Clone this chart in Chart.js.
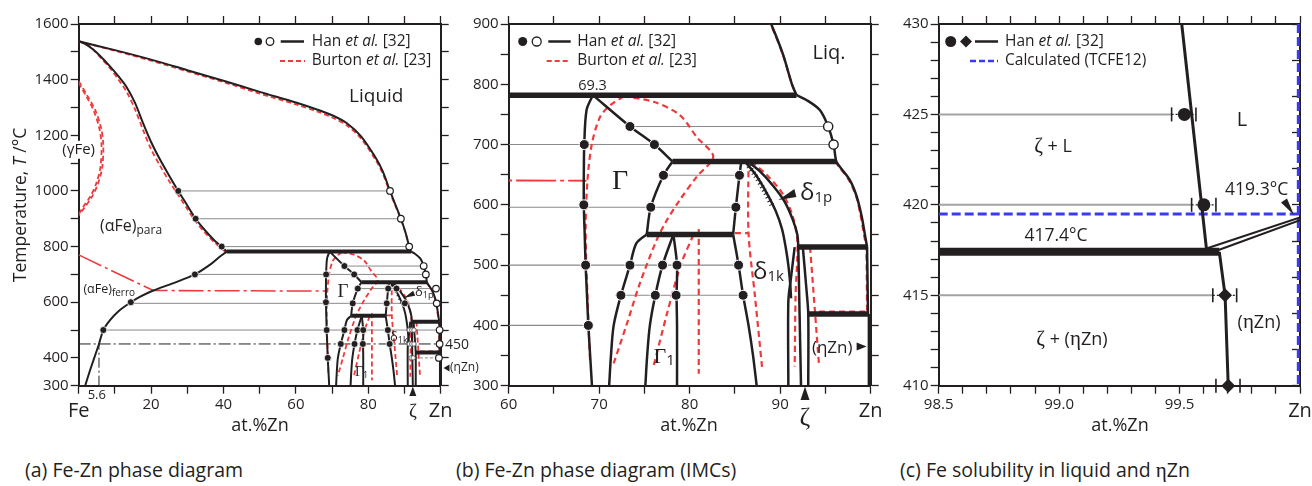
<!DOCTYPE html>
<html><head><meta charset="utf-8">
<title>Fe-Zn phase diagram</title>
<script src="https://cdn.jsdelivr.net/npm/chart.js@4.4.1/dist/chart.umd.min.js"></script>
<style>
html,body{margin:0;padding:0;background:#fff;}
body{position:relative;width:1312px;height:486px;overflow:hidden;}
canvas{position:absolute;top:0;}
.cap{position:absolute;top:457px;font-family:"Open Sans",sans-serif;font-size:19.5px;color:#231f20;white-space:nowrap;line-height:26px;}
.cap .g{font-family:"Liberation Serif",serif;font-size:21px;}
</style></head><body>
<canvas id="ca" width="490" height="440" style="left:0px"></canvas>
<canvas id="cb" width="440" height="440" style="left:450px"></canvas>
<canvas id="cc" width="432" height="440" style="left:880px"></canvas>
<div class="cap" style="left:25px">(a) Fe-Zn phase diagram</div>
<div class="cap" style="left:456px">(b) Fe-Zn phase diagram (IMCs)</div>
<div class="cap" style="left:900px">(c) Fe solubility in liquid and <span class="g">η</span>Zn</div>
<script>
// ===================== DATA (at.% Zn , °C) =====================
// Han et al. [32] phase boundaries
const hanLiquidus = [[0,1538],[10,1506],[20,1472],[30,1434],[40,1396],[50,1356],[60,1318],[66,1292],[70,1272],[74,1244],[78,1196],[82,1120],[84,1070],[86,1000],[87.5,950],[89,900],[90.3,850],[91.3,800],[91.8,782]];
const hanAlphaSolidus = [[0,1538],[2,1527],[4,1508],[6,1484],[8.7,1447],[11,1412],[13.3,1372],[15.5,1318],[17.9,1240],[20,1176],[22.5,1112],[25,1055],[27.5,1000],[30,948],[32.3,900],[35,857],[37.5,822],[39.5,800],[40.9,782]];
const hanAlphaSolvus = [[40.9,782],[38.6,760],[36.3,735],[32.1,700],[26,668],[20.6,642],[17,620],[14.4,600],[11,568],[8.6,535],[6.8,500],[5.6,450],[4.3,400],[3.0,350],[1.8,300]];
const hanGammaLeft = [[69.3,782],[68.6,757],[68.35,700],[68.3,650],[68.3,600],[68.4,550],[68.5,500],[68.65,450],[68.8,400],[69.0,350],[69.2,300]];
const hanGammaLiq = [[69.3,782],[73.4,730],[76.1,700],[78.1,672]];
const hanGammaMid = [[78.1,672],[77.1,649],[75.7,596],[75.25,551]];
const hanGammaLow = [[75.25,551],[74.1,536],[73.4,500],[72.4,450],[71.6,400],[71.3,350],[71.1,300]];
const hanGamma1Left = [[78.2,551],[77.0,500],[76.2,450],[75.6,400],[75.3,350],[75.1,300]];
const hanGamma1Right = [[78.2,551],[78.6,500],[78.55,450],[78.6,400],[78.6,300]];
const hanDeltaLeftUp = [[85.7,672],[85.5,649],[85.1,596],[84.8,551]];
const hanDeltaLeftLow = [[84.8,551],[85.4,500],[85.9,450],[86.5,400],[87.0,350],[87.4,300]];
const hanDelta1p1k = [[86.1,672],[87.3,650],[88.5,620],[89.5,590],[90.2,560],[90.6,530],[90.9,500],[91.1,470],[91.2,445]];
const hanDeltaHatch = [[86.5,664],[87.2,650],[88.3,622],[89.2,596]];
const hanDeltaRight = [[86.4,672],[87.8,655],[89.3,630],[90.5,605],[91.4,575],[91.9,550],[92.0,530]];
const hanDeltaZeta = [[91.6,530],[91.2,480],[90.9,440],[90.9,300]];
const hanZetaLeft = [[92.0,530],[92.1,450],[92.3,300]];
const hanZetaRight = [[92.5,530],[92.9,460],[93.1,419],[93.1,300]];
const hanLiqDelta = [[91.8,782],[92.9,774],[94.4,757],[95.3,730],[95.9,700],[96.2,672],[96.6,663],[97.7,641],[98.45,614],[99.0,581],[99.4,547],[99.6,530]];
const hanLiqZeta = [[99.6,530],[99.7,419]];
const hanEtaSolvus = [[99.8,419],[99.8,300]];
// invariant reactions: [T, x from, x to]
const hanInvariants = [[782,40.9,91.8],[672,78.1,96.2],[551,75.25,84.8],[530,92.0,99.6],[419,93.1,99.8]];
// experimental points, panel (a)
const dotsA = [[27.5,1000],[32.3,900],[39.5,800],[32.1,700],[14.4,600],[6.8,500],[68.35,700],[68.3,600],[73.4,730],[76.1,700],[77.1,649],[85.5,649],[87.8,649],[75.7,596],[85.1,596],[90.1,596],[68.5,500],[73.4,500],[77.0,500],[78.6,500],[85.4,500],[72.4,450],[76.2,450],[78.5,450],[85.9,450],[68.8,400]];
const circA = [[86,1000],[89,900],[91.3,800],[95.3,730],[95.9,700],[98.7,649],[98.9,596],[99.7,500],[99.7,450],[99.5,400]];
const smallCircA = [[91.3,500],[92.0,500],[92.6,500],[91.3,450],[92.0,450],[92.6,450],[91.8,400],[92.4,400]];
// tie-lines [T, x from, x to]
const tieA = [[1000,27.5,86],[900,32.3,89],[800,39.5,91.3],[730,73.4,95.3],[700,32.1,95.9],[649,76.8,98.7],[596,14.4,98.9],[500,6.8,99.7]];
const tieA400 = [[400,91.5,99.5]];
const dashDot450 = [[0,450],[100,450]];
const dashDot56 = [[5.6,300],[5.6,450]];
// panel (b)
const dotsB = [[68.35,700],[68.3,600],[68.5,500],[68.8,400],[73.4,730],[76.1,700],[77.1,649],[75.7,596],[73.4,500],[72.4,450],[77.0,500],[76.2,450],[78.6,500],[78.5,450],[85.5,649],[85.1,596],[85.4,500],[85.9,450]];
const circB = [[95.3,730],[95.9,700]];
const tieB = [[730,73.4,95.3],[700,60,95.9],[649,77.1,85.5],[596,60,85.1],[500,60,85.4],[450,71.8,85.9],[400,60,68.8]];
// Burton et al. [23]
const burGammaLoop = [[0,1394],[2.5,1340],[4.6,1290],[6.2,1225],[6.8,1165],[6.5,1085],[5.3,1025],[3.6,978],[1.6,940],[0,912]];
const burGammaLoop2 = [[0,1388],[2.1,1340],[4.1,1290],[5.7,1225],[6.3,1165],[6.0,1085],[4.8,1025],[3.1,978],[1.2,942],[0,916]];
const burLiquidus = [[0,1538],[10,1504],[20,1468],[30,1430],[40,1391],[50,1350],[60,1311],[66,1285],[70,1264],[74,1236],[78,1188],[82,1112],[84,1062],[86,994],[87.5,946],[89,898],[90.3,849],[91.3,800],[91.8,782]];
const burAlphaSolidus = [[0,1538],[3,1520],[6,1480],[8.7,1440],[11,1400],[13.3,1355],[15.5,1295],[17.9,1215],[20,1150],[22.5,1090],[25,1035],[27.5,985],[30,935],[32.3,890],[35,848],[37.5,815],[39.5,792],[40.5,782]];
const burCurie = [[0,770],[20.6,642],[68.6,640]];
const burGammaLeft = [[72.7,780],[71.2,765],[70.1,746],[69.2,702],[68.7,640],[68.5,560],[68.7,450],[69.0,337]];
const burGammaRight = [[72.7,780],[76.0,771],[78.9,749],[80.8,712],[82.6,680],[80.8,647],[78.9,608],[77.3,570],[76.3,540],[74.5,470],[73,400],[71.6,337]];
const burGamma1Left = [[80.4,550],[79.0,500],[77.5,420],[76.0,332]];
const burGamma1Right = [[81.0,560],[81.0,320]];
const burDeltaTop = [[85.0,553],[86.5,553]];
const burDeltaLeft = [[86.5,672],[86.5,553],[87.2,450],[88.0,330]];
const burDeltaRight = [[86.8,672],[88.5,650],[90.2,620],[91.3,585],[91.9,540],[91.7,450],[91.6,332]];
const burZeta = [[93.3,530],[94.3,332]];
const burLiquid = [[96.1,672],[96.5,663],[97.6,641],[98.4,614],[98.9,581],[99.3,547],[99.5,530],[99.6,423]];
const burEutectic = [[94.3,423],[99.6,423]];
// panel (c): Fe solubility
const cTemps = [425,420,415,410];
const cX = [99.520,99.601,99.689,99.702];
const cErrLo = [99.467,99.550,99.638,99.651];
const cErrHi = [99.568,99.651,99.737,99.751];
const cLiquidus = [[99.509,430],[99.613,417.4]];
const cEtaSolvus = [[99.665,417.4],[99.689,415],[99.702,410]];
const cEutectic = [[98.5,417.4],[99.665,417.4]];
const cEtaLiq1 = [[99.615,417.6],[100,419.3]];
const cEtaLiq2 = [[99.662,417.5],[100,419.15]];
const cCalcT = [[98.5,419.5],[100,419.5]];
const cCalcX = [[99.993,430],[99.993,410]];
// tick labels
const ticksA = {x:[20,40,60,80], y:[300,400,600,800,1000,1200,1400,1600]};
const ticksB = {x:[60,70,80,90], y:[300,400,500,600,700,800,900]};
const ticksC = {x:['98.5','99.0','99.5'], y:[410,415,420,425,430]};

// ===================== STYLE / HELPERS =====================
const INK='#231f20', RED='#ef3a3d', GRAY='#8a8a8a', BLUE='#3a3af5';
const F=(s,st)=>(st?st+' ':'')+s+'px "Open Sans", sans-serif';
const FS=(s,st)=>(st?st+' ':'')+s+'px "Liberation Serif", serif';
const P=a=>a.map(p=>({x:p[0],y:p[1]}));
function lineDS(a,col,w,dash,ord,ten){return {data:P(a),showLine:true,borderColor:col,borderWidth:w,borderDash:dash||[],pointRadius:0,pointHoverRadius:0,pointHitRadius:0,tension:ten||0,order:ord,clip:0,fill:false,xAxisID:'x',yAxisID:'y'};}
function markDS(a,style,r,bg,bc,bw,ord,rot){return {data:P(a),showLine:false,pointStyle:style,pointRadius:r,pointHoverRadius:r,pointRotation:rot||0,backgroundColor:bg,borderColor:bc,pointBackgroundColor:bg,pointBorderColor:bc,pointBorderWidth:bw,order:ord,clip:false,xAxisID:'x',yAxisID:'y'};}
function tieDS(list,col,w,dash,ord){return list.map(t=>lineDS([[t[1],t[0]],[t[2],t[0]]],col,w,dash,ord));}
function txt(c,parts,x,y,align,bg){
  c.textBaseline='middle';c.textAlign='left';
  let w=0;for(const p of parts){c.font=p[1];w+=c.measureText(p[0]).width;}
  let x0=align==='center'?x-w/2:align==='right'?x-w:x;
  if(bg){c.save();c.fillStyle=bg;c.fillRect(x0-1,y-9,w+2,18);c.restore();}
  for(const p of parts){c.font=p[1];c.fillText(p[0],x0,y+(p[2]||0));x0+=c.measureText(p[0]).width;}
}
function poly(c,pts){c.beginPath();c.moveTo(pts[0][0],pts[0][1]);for(let i=1;i<pts.length;i++)c.lineTo(pts[i][0],pts[i][1]);c.closePath();c.fill();}
function seg(c,x1,y1,x2,y2,col,w,dash){c.save();c.strokeStyle=col;c.lineWidth=w;c.setLineDash(dash||[]);c.beginPath();c.moveTo(x1,y1);c.lineTo(x2,y2);c.stroke();c.restore();}
function dot(c,x,y,r,open){c.save();c.beginPath();c.arc(x,y,r,0,Math.PI*2);if(open){c.fillStyle='#fff';c.fill();c.lineWidth=1.3;c.strokeStyle=INK;c.stroke();}else{c.fillStyle=INK;c.fill();}c.restore();}

function phaseDatasets(s){
  const D=[];
  const add=(a,col,w,dash,ord,ten)=>D.push(lineDS(a,col,w,dash,ord,ten));
  [burGammaLoop,burGammaLoop2,burLiquidus,burAlphaSolidus,burGammaLeft,burGammaRight,burGamma1Left,burGamma1Right,burDeltaTop,burDeltaLeft,burDeltaRight,burZeta,burLiquid,burEutectic].forEach(a=>add(a,RED,s.red,s.redDash,3,0.3));
  add(burCurie,RED,s.red*0.85,s.curieDash,3,0);
  [hanLiquidus,hanAlphaSolidus,hanAlphaSolvus,hanGammaLeft,hanGammaLiq,hanGammaMid,hanGammaLow,hanGamma1Left,hanGamma1Right,hanDeltaLeftUp,hanDeltaLeftLow,hanDelta1p1k,hanDeltaRight,hanDeltaZeta,hanZetaLeft,hanZetaRight,hanLiqDelta,hanLiqZeta,hanEtaSolvus].forEach(a=>add(a,INK,s.thin,[],2,0.3));
  add(hanDeltaHatch,INK,s.hatch,[1,3],2,0.3);
  hanInvariants.forEach(r=>add([[r[1],r[0]],[r[2],r[0]]],INK,s.thick,[],1,0));
  return D;
}
function axes(o){
  const tf={family:'"Open Sans", sans-serif',size:15};
  const g={drawOnChartArea:false,drawTicks:true,tickLength:8,tickWidth:1.3,tickColor:INK};
  const b={display:true,color:INK,width:2};
  const base=(pos,min,max,step,cb,fit,tl)=>({type:'linear',position:pos,min,max,
    grid:Object.assign({},g,{tickLength:tl||8}),border:b,
    ticks:{stepSize:step,autoSkip:false,maxRotation:0,minRotation:0,color:INK,font:tf,padding:2,includeBounds:true,callback:cb},afterFit:fit});
  return {
    x:base('bottom',o.xmin,o.xmax,o.xstep,o.xcb,s=>{s.height=40;}),
    xt:base('top',o.xmin,o.xmax,o.xstep,()=>'',s=>{s.height=10;}),
    y:base('left',o.ymin,o.ymax,o.ystep,o.ycb,s=>{s.width=o.yW;}),
    yr:base('right',o.ymin,o.ymax,o.yrstep||o.ystep,()=>'',s=>{s.width=o.yrW;},o.yrTL)
  };
}
const common={responsive:false,animation:false,events:[],plugins:{legend:{display:false},tooltip:{enabled:false}}};

// ===================== PANEL (a) =====================
const styleA={thin:2,thick:4,hatch:3,red:1.8,redDash:[5,3],curieDash:[25,4,3,4]};
const dsA=[
  markDS(dotsA,'circle',3.5,INK,'#fff',0.8,0),
  markDS(circA,'circle',3.3,'#fff',INK,1.2,0),
  markDS(smallCircA,'circle',2.2,'#fff','#555',0.9,0),
  ...phaseDatasets(styleA),
  ...tieDS(tieA,GRAY,1,[],4),
  ...tieDS(tieA400,GRAY,1,[3,2],4),
  lineDS(dashDot450,INK,1,[12,3,2,3],4),
  lineDS(dashDot56,INK,1,[10,3,2,3],4)
];
function decoA(ch){
  const c=ch.ctx,X=v=>ch.scales.x.getPixelForValue(v),Y=v=>ch.scales.y.getPixelForValue(v);
  c.save();c.fillStyle=INK;
  txt(c,[['Liquid',F(19)]],X(82.2),Y(1338),'center');
  txt(c,[['(γFe)',F(15)]],X(0),Y(1148),'center','#fff');
  c.fillStyle=INK;
  txt(c,[['(αFe)',F(16)],['para',F(12),4]],X(5.9),Y(871),'left');
  txt(c,[['(αFe)',F(12.5)],['ferro',F(10),3]],X(1.3),Y(645),'left');
  txt(c,[['Γ',FS(19)]],X(73),Y(638),'center');
  txt(c,[['δ',F(13)],['1p',F(9),3]],X(92.9),Y(635),'left');
  {const tx=X(89.9),ty=Y(616);poly(c,[[tx,ty],[tx+9,ty-7],[tx+11,ty-2]]);}
  txt(c,[['δ',F(13)],['1k',F(9),3]],X(86.0),Y(473),'left');
  txt(c,[['Γ',FS(14)],['1',F(9),3]],X(76.3),Y(347),'left');
  txt(c,[['450',F(14)]],445,345,'left');
  txt(c,[['(ηZn)',F(12)]],450,368,'left');
  poly(c,[[443.5,368],[449.5,364.5],[449.5,371.5]]);
  {const zx=X(92.3);poly(c,[[zx,386.5],[zx-3.5,396],[zx+3.5,396]]);txt(c,[['ζ',FS(19)]],zx,412,'center');}
  txt(c,[['5.6',F(13)]],X(5.0),395,'center');
  txt(c,[['Fe',F(20)]],X(0),411.7,'center');
  txt(c,[['Zn',F(20)]],X(100),411.7,'center');
  txt(c,[['at.%Zn',F(18)]],260,426,'center');
  c.save();c.translate(21,205);c.rotate(-Math.PI/2);txt(c,[['Temperature, ',F(17.5)],['T',F(17.5,'italic')],[' /°C',F(17.5)]],0,0,'center');c.restore();
  dot(c,258.3,41.5,3.8,false);dot(c,270,41.5,3.8,true);seg(c,280.7,41.5,304,41.5,INK,2.5);
  c.fillStyle=INK;txt(c,[['Han ',F(15.5)],['et al.',F(15.5,'italic')],[' [32]',F(15.5)]],311.7,41.5,'left');
  seg(c,280,61,305,61,RED,2.2,[5,3]);
  c.fillStyle=INK;txt(c,[['Burton ',F(15.5)],['et al.',F(15.5,'italic')],[' [23]',F(15.5)]],311.7,61,'left');
  c.restore();
}
new Chart(document.getElementById('ca'),{type:'scatter',data:{datasets:dsA},
  options:Object.assign({},common,{layout:{padding:{left:18.7,right:39.3,top:14,bottom:14.3}},
    scales:axes({xmin:0,xmax:100,xstep:10,xcb:v=>ticksA.x.includes(v)?String(v):'',ymin:300,ymax:1600,ystep:100,ycb:v=>ticksA.y.includes(v)?String(v):'',yW:60,yrW:10})}),
  plugins:[{id:'decoA',afterDraw:decoA}]});

// ===================== PANEL (b) =====================
const styleB={thin:2.5,thick:5.5,hatch:5,red:2.2,redDash:[6,4],curieDash:[40,4,4,4]};
const dsB=[
  markDS(dotsB,'circle',5,INK,'#fff',1,0),
  markDS(circB,'circle',4.6,'#fff',INK,1.4,0),
  ...phaseDatasets(styleB),
  ...tieDS(tieB,GRAY,1.1,[],4)
];
function decoB(ch){
  const c=ch.ctx,X=v=>ch.scales.x.getPixelForValue(v),Y=v=>ch.scales.y.getPixelForValue(v),L=450;
  c.save();c.fillStyle=INK;
  txt(c,[['69.3',F(14.5)]],X(69.26),Y(797),'center');
  txt(c,[['Liq.',F(20)]],X(95.4),Y(852),'center');
  txt(c,[['Γ',FS(28)]],X(72.3),Y(638),'center');
  txt(c,[['δ',F(24)],['1p',F(15),5]],X(92.2),Y(620),'left');
  {const tx=X(89.8),ty=Y(608);poly(c,[[tx,ty],[tx+16,ty-11],[tx+18,ty-3]]);}
  txt(c,[['δ',F(24)],['1k',F(15),5]],X(87.0),Y(489),'left');
  txt(c,[['Γ',FS(22)],['1',F(15),4]],X(76.0),Y(348),'left');
  txt(c,[['(ηZn)',F(17)]],X(93.5),Y(363),'left');
  {const tx=X(99.55),ty=Y(365);poly(c,[[tx,ty],[tx-10,ty-4],[tx-10,ty+4]]);}
  {const zx=X(92.74);poly(c,[[zx,386.5],[zx-4.5,400],[zx+4.5,400]]);txt(c,[['ζ',FS(26)]],zx,418,'center');}
  txt(c,[['Zn',F(20)]],X(100),411.7,'center');
  txt(c,[['at.%Zn',F(18)]],689-L,426,'center');
  dot(c,522.7-L,41.5,4.5,false);dot(c,536.7-L,41.5,4.5,true);seg(c,548.3-L,41.5,570.7-L,41.5,INK,2.5);
  c.fillStyle=INK;txt(c,[['Han ',F(15.5)],['et al.',F(15.5,'italic')],[' [32]',F(15.5)]],577.3-L,41.5,'left');
  seg(c,546.7-L,61,570.7-L,61,RED,2.2,[5,3]);
  c.fillStyle=INK;txt(c,[['Burton ',F(15.5)],['et al.',F(15.5,'italic')],[' [23]',F(15.5)]],577.3-L,61,'left');
  c.restore();
}
new Chart(document.getElementById('cb'),{type:'scatter',data:{datasets:dsB},
  options:Object.assign({},common,{layout:{padding:{left:13.7,right:9.3,top:14,bottom:14.3}},
    scales:axes({xmin:60,xmax:100,xstep:5,xcb:v=>ticksB.x.includes(v)?String(v):'',ymin:300,ymax:900,ystep:50,ycb:v=>ticksB.y.includes(v)?String(v):'',yW:45,yrW:10})}),
  plugins:[{id:'decoB',afterDraw:decoB}]});

// ===================== PANEL (c) =====================
const pts=(xs)=>xs.map((x,i)=>[x,cTemps[i]]);
const dsC=[
  markDS(pts(cX).slice(0,2),'circle',6.5,INK,INK,0,0),
  markDS(pts(cX).slice(2),'rectRot',7,INK,INK,0,0),
  markDS(pts(cErrLo),'line',7,INK,INK,1.6,0,90),
  markDS(pts(cErrHi),'line',7,INK,INK,1.6,0,90),
  ...cTemps.map((t,i)=>lineDS([[cErrLo[i],t],[cErrHi[i],t]],INK,1.2,[2,2],0)),
  lineDS(cEutectic,INK,8,[],1),
  lineDS(cLiquidus,INK,3,[],1),
  lineDS(cEtaSolvus,INK,3,[],1),
  lineDS(cEtaLiq1,INK,2,[],1),
  lineDS(cEtaLiq2,INK,2,[],1),
  lineDS(cCalcT,BLUE,3,[9,4],2),
  lineDS(cCalcX,BLUE,3,[9,4],2),
  ...cTemps.slice(0,3).map((t,i)=>lineDS([[98.5,t],[cErrLo[i],t]],'#a3a3a3',2,[],3))
];
function decoC(ch){
  const c=ch.ctx,X=v=>ch.scales.x.getPixelForValue(v),Y=v=>ch.scales.y.getPixelForValue(v),L=880;
  c.save();c.fillStyle=INK;
  txt(c,[['L',F(20)]],X(99.759),Y(424.69),'center');
  txt(c,[['ζ',FS(21)],[' + L',F(18)]],X(98.975),Y(423.2),'center');
  txt(c,[['417.4°C',F(17.5)]],X(98.987),Y(418.28),'center');
  txt(c,[['419.3°C',F(17.5)]],X(99.82),Y(420.82),'center');
  poly(c,[[1294-L,215],[1281-L,202.5],[1287-L,198.5]]);
  txt(c,[['ζ',FS(21)],[' + (',F(18)],['η',FS(21)],['Zn)',F(18)]],X(99.053),Y(412.53),'center');
  txt(c,[['(',F(18)],['η',FS(21)],['Zn)',F(18)]],X(99.83),Y(413.47),'center');
  txt(c,[['Zn',F(20)]],X(100),411.7,'center');
  txt(c,[['at.%Zn',F(18)]],1120-L,426,'center');
  dot(c,950.7-L,41.5,5.5,false);
  poly(c,[[966-L,35.5],[972-L,41.5],[966-L,47.5],[960-L,41.5]]);
  seg(c,975-L,41.5,998-L,41.5,INK,2.5);
  c.fillStyle=INK;txt(c,[['Han ',F(15.5)],['et al.',F(15.5,'italic')],[' [32]',F(15.5)]],1005-L,41.5,'left');
  seg(c,970-L,61,998-L,61,BLUE,2.5,[6,3]);
  c.fillStyle=INK;txt(c,[['Calculated (TCFE12)',F(15.5)]],1005-L,61,'left');
  c.restore();
}
new Chart(document.getElementById('cc'),{type:'scatter',data:{datasets:dsC},
  options:Object.assign({},common,{layout:{padding:{left:13.7,right:6,top:14,bottom:14.3}},
    scales:axes({xmin:98.5,xmax:100,xstep:0.1,xcb:v=>{const s=(Math.round(v*10)/10).toFixed(1);return ticksC.x.includes(s)?s:'';},
      ymin:410,ymax:430,ystep:1,yrstep:2,ycb:v=>ticksC.y.includes(Math.round(v))&&Math.abs(v-Math.round(v))<1e-6?String(Math.round(v)):'',yW:45,yrW:6,yrTL:-8})}),
  plugins:[{id:'decoC',afterDraw:decoC}]});
</script></body></html>
